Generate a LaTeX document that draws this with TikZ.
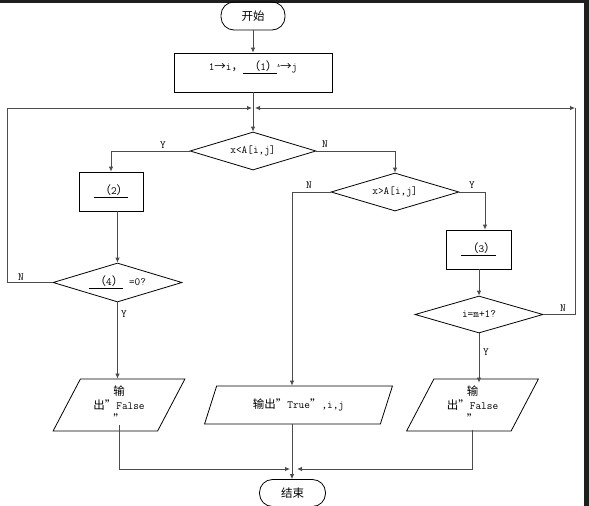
\documentclass[tikz,border=0pt]{standalone}
\usepackage{fontspec}
\newfontfamily\cjk{Noto Sans CJK SC}
\usetikzlibrary{shapes.geometric,arrows.meta}
\newcommand\zh[1]{{\cjk\fontsize{11.5}{14}\selectfont #1}}
\begin{document}
\begin{tikzpicture}[x=1pt,y=-1pt,
  every node/.style={font=\ttfamily\fontsize{11}{14}\selectfont},
  conn/.style={draw=black!70, line width=0.8pt},
  arr/.style={conn,-{Latex[length=5pt,width=4.5pt]}},
  shp/.style={draw=black, line width=0.8pt, inner sep=0pt},
  term/.style={shp, rectangle, rounded corners=13pt},
  boxx/.style={shp, rectangle},
  dia/.style={shp, diamond, aspect=3.3},
  para/.style={shp, trapezium, trapezium stretches=true, align=center},
  lbl/.style={inner sep=0pt}
]
\useasboundingbox (0,0) rectangle (589,506);
\fill[white] (0,0) rectangle (589,506);
\fill[black!88] (0,0) rectangle (589,2.5);
\fill[black!88] (584,0) rectangle (589,506);

% nodes
\node[term, minimum width=64pt, minimum height=28pt] (start) at (253,16) {\zh{开始}};
\node[boxx, minimum width=158pt, minimum height=39pt] (init) at (253,72.5) {};
\node[lbl] (initt) at (253,67) {1\zh{→}i\zh{，}\underline{\ \zh{（}1\zh{）}}\raisebox{3pt}{\fontsize{5}{5}\selectfont A}\zh{→}j};
\coordinate (J) at (253,108);
\node[dia, minimum width=126pt, minimum height=38pt] (d1) at (253,151) {x<A[i,j]};
\node[boxx, minimum width=64pt, minimum height=39pt] (b2) at (111,191.5) {\underline{\ \zh{（}2\zh{）}}};
\node[dia, minimum width=129pt, minimum height=39pt] (d4) at (117.5,282.5) {\underline{\ \zh{（}4\zh{）}}\ =0?};
\node[dia, minimum width=128pt, minimum height=38pt] (d2) at (395,192) {x>A[i,j]};
\node[boxx, minimum width=65pt, minimum height=39pt] (b3) at (478.5,249.5) {\underline{\ \zh{（}3\zh{）}}};
\node[dia, minimum width=128pt, minimum height=37pt] (d3) at (479,314.5) {i=m+1?};
\node[para, trapezium left angle=64.3, trapezium right angle=115.7, minimum width=132pt, minimum height=52pt] (o1) at (119,405) {\zh{输}\\\zh{出”}False\\\zh{”}};
\node[para, trapezium left angle=61.1, trapezium right angle=118.9, minimum width=188pt, minimum height=38pt] (o2) at (298.5,405) {\zh{输出”}True\zh{”},i,j};
\node[para, trapezium left angle=64.3, trapezium right angle=115.7, minimum width=132pt, minimum height=52pt] (o3) at (472.5,405) {\zh{输}\\\zh{出”}False\\\zh{”}};
\node[term, minimum width=66pt, minimum height=27pt] (end) at (292.5,493) {\zh{结束}};

% helper coordinates
\coordinate (colL) at (7,200);
\coordinate (colT) at (292,300);
\coordinate (colR) at (485,250);
\coordinate (RC) at (575,108);
\coordinate (ML) at (290,469);
\coordinate (MR) at (297,469);

% connectors
\draw[arr] (start) -- (init);
\draw[conn] (init) -- (J);
\draw[arr] (J) -- (d1);
\draw[arr] (d1.west) -| (b2.north);
\draw[arr] (b2.south -| d4.north) -- (d4.north);
\draw[arr, shorten >=0.5pt] (d4.west) -| (colL |- J) -- ([xshift=-0.5pt]J);
\draw[arr] (d4.south) -- (d4.south |- o1.north);
\draw[arr] (d1.east) -| (d2.north);
\draw[arr] (d2.west) -| (colT |- o2.north);
\draw[arr] (d2.east) -| (colR |- b3.north);
\draw[arr] (b3.south -| d3.north) -- (d3.north);
\draw[conn] (d3.east) -| (RC);
\draw[conn, {Latex[length=5pt,width=4.5pt]}-{Latex[length=5pt,width=4.5pt]}] ([xshift=2pt]J) -- (RC);
\draw[arr] (d3.south) -- ([yshift=-4pt]d3.south |- o3.north);
\draw[arr] (colT |- o2.south) -- (colT |- end.north);
\draw[arr] ([yshift=6pt]o1.south) |- (ML);
\draw[arr] ([yshift=1pt]o3.south) |- (MR);

% labels
\node[lbl] (ly1) at (163,145) {Y};
\node[lbl] (ln1) at (325,144) {N};
\node[lbl] (ln4) at (21,277) {N};
\node[lbl] (ly4) at (124,314) {Y};
\node[lbl] (ln2) at (309,185) {N};
\node[lbl] (ly2) at (472,185) {Y};
\node[lbl] (ln3) at (563,308) {N};
\node[lbl] (ly3) at (486,352) {Y};
\end{tikzpicture}
\end{document}
